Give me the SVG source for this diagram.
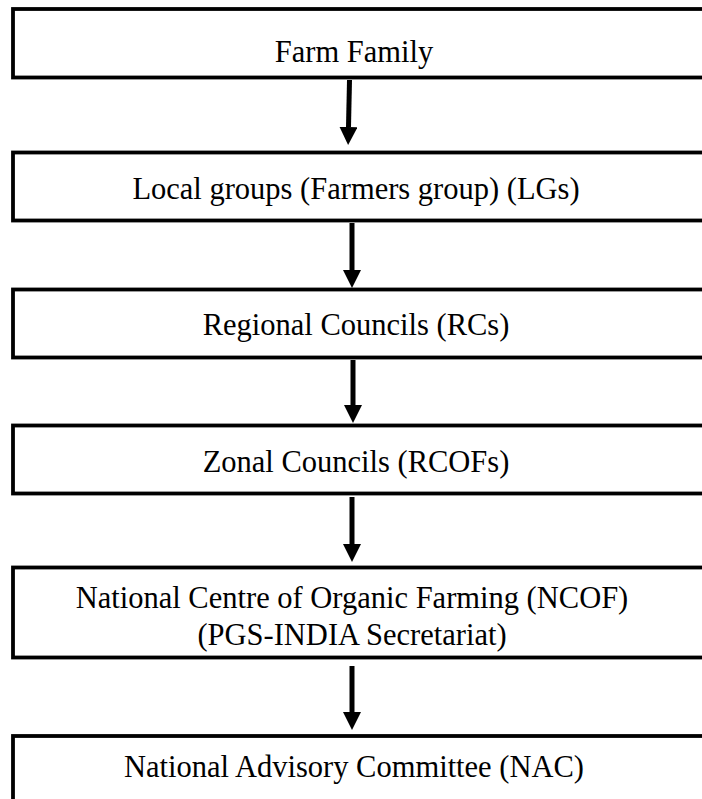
<svg xmlns="http://www.w3.org/2000/svg" width="702" height="799" viewBox="0 0 702 799">
<defs>
<marker id="ah" viewBox="0 0 18 18" markerWidth="18" markerHeight="18" markerUnits="userSpaceOnUse" refX="0" refY="9" orient="auto">
<path d="M0,0 L18,9 L0,18 Z" fill="#000"/>
</marker>
<style>
.box{fill:#fff;stroke:#000;stroke-width:3.8}
.con{stroke:#000;stroke-width:5;fill:none;marker-end:url(#ah)}
</style>
</defs>
<rect width="702" height="799" fill="#fff"/>
<g id="connectors">
<line class="con" x1="349.5" y1="80" x2="348.5" y2="127"/>
<line class="con" x1="352" y1="223" x2="352" y2="270"/>
<line class="con" x1="353" y1="360" x2="353" y2="405"/>
<line class="con" x1="352" y1="497" x2="352" y2="544"/>
<line class="con" x1="352" y1="666" x2="352" y2="712"/>
</g>
<g font-family="Liberation Serif, Times New Roman, Tinos, DejaVu Serif, serif" font-size="30.5" text-anchor="middle" fill="#000">
<g id="node-farm-family">
<rect class="box" x="13" y="9" width="700" height="68.5"/>
<text x="354" y="62">Farm Family</text>
</g>
<g id="node-local-groups">
<rect class="box" x="13" y="152.5" width="700" height="68"/>
<text x="356" y="199">Local groups (Farmers group) (LGs)</text>
</g>
<g id="node-regional-councils">
<rect class="box" x="13" y="289.5" width="700" height="68"/>
<text x="356" y="335">Regional Councils (RCs)</text>
</g>
<g id="node-zonal-councils">
<rect class="box" x="13" y="425.5" width="700" height="68"/>
<text x="356" y="472">Zonal Councils (RCOFs)</text>
</g>
<g id="node-ncof">
<rect class="box" x="13" y="567.5" width="700" height="90"/>
<text x="352" y="608">National Centre of Organic Farming (NCOF)</text>
<text x="352" y="645">(PGS-INDIA Secretariat)</text>
</g>
<g id="node-nac">
<rect class="box" x="13" y="736" width="700" height="80"/>
<text x="354" y="777">National Advisory Committee (NAC)</text>
</g>
</g>
</svg>
